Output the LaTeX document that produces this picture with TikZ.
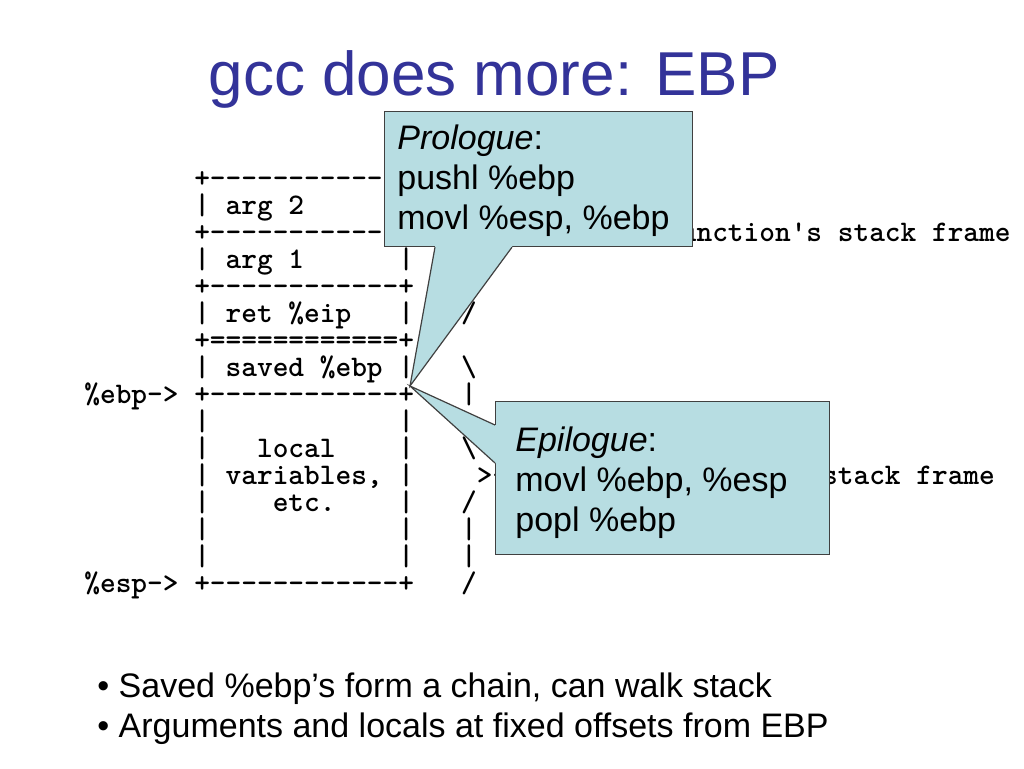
\documentclass[tikz,border=0pt]{standalone}
\usepackage{fontspec}
\setmainfont{Liberation Sans}
\newfontfamily\stackfont{lmmonolt10-bold.otf}[Ligatures=TeXOff]
\usetikzlibrary{positioning,calc}
\definecolor{titleblue}{RGB}{51,51,153}
\definecolor{notefill}{RGB}{183,221,226}
\definecolor{noteline}{RGB}{64,64,64}

\begin{document}
\begin{tikzpicture}[x=0.5pt,y=-0.5pt,
    title/.style={anchor=base,font=\fontsize{31}{36}\selectfont,text=titleblue},
    stack/.style={anchor=base west,inner sep=0,font=\stackfont\fontsize{14.95}{15}\selectfont},
    note/.style={anchor=north west,inner sep=0,fill=notefill,draw=noteline,line width=0.6pt},
    notetext/.style={inner sep=0,align=left,font=\fontsize{17}{20}\selectfont},
    pointer/.style={draw=noteline,line width=0.6pt},
    bullet/.style={anchor=base west,inner sep=0,font=\fontsize{17}{20}\selectfont}]
  \useasboundingbox[fill=white] (0,0) rectangle (1024,768);

  \node[title] (title) at (494,95) {gcc does more: EBP};

  \foreach \txt [count=\r from 0] in {
      {~~~~~~~+-----------},
      {~~~~~~~|~arg~2},
      {~~~~~~~+-----------~~~~~~~~~~~~~~~~~~function's~stack~frame},
      {~~~~~~~|~arg~1~~~~~~|},
      {~~~~~~~+------------+},
      {~~~~~~~|~ret~\%eip~~~|~~~/},
      {~~~~~~~+============+},
      {~~~~~~~|~saved~\%ebp~|~~~\textbackslash},
      {\%ebp->~+------------+~~~|},
      {~~~~~~~|~~~~~~~~~~~~|},
      {~~~~~~~|~~~local~~~~|~~~\textbackslash},
      {~~~~~~~|~variables,~|~~~~>-~current~function's~stack~frame},
      {~~~~~~~|~~~~etc.~~~~|~~~/},
      {~~~~~~~|~~~~~~~~~~~~|~~~|},
      {~~~~~~~|~~~~~~~~~~~~|~~~|},
      {\%esp->~+------------+~~~/}}
    \node[stack] (row\r) at (84,{187+27*\r}) {\txt};

  \node[note,minimum width=154pt,minimum height=67.5pt] (prologue) at (384,111) {};
  \node[note,minimum width=167pt,minimum height=76.5pt] (epilogue) at (495,401) {};
  \coordinate (tip) at (410,386);

  \fill[notefill] ($(prologue.south west)+(51,0)$) -- (tip) -- ($(prologue.south west)+(128,0)$)
    -- ++(0,-3) -- ($(prologue.south west)+(51,-3)$) -- cycle;
  \draw[pointer] ($(prologue.south west)+(51,0)$) -- (tip) -- ($(prologue.south west)+(128,0)$);
  \fill[notefill] ($(epilogue.north west)+(0,24)$) -- (tip) -- ($(epilogue.north west)+(0,62)$)
    -- ++(3,0) -- ($(epilogue.north west)+(3,24)$) -- cycle;
  \draw[pointer] ($(epilogue.north west)+(0,24)$) -- (tip) -- ($(epilogue.north west)+(0,62)$);

  \node[notetext,below right=6.5pt and 6.5pt of prologue.north west] (prologuetext)
    {\textit{Prologue}:\\pushl \%ebp\\movl \%esp, \%ebp};
  \node[notetext,below right=12.5pt and 10pt of epilogue.north west] (epiloguetext)
    {\textit{Epilogue}:\\movl \%ebp, \%esp\\popl \%ebp};

  \node[bullet] (chain) at (97,697) {\textbullet\ Saved \%ebp’s form a chain, can walk stack};
  \node[bullet] (offsets) at (97,737) {\textbullet\ Arguments and locals at fixed offsets from EBP};
\end{tikzpicture}
\end{document}
